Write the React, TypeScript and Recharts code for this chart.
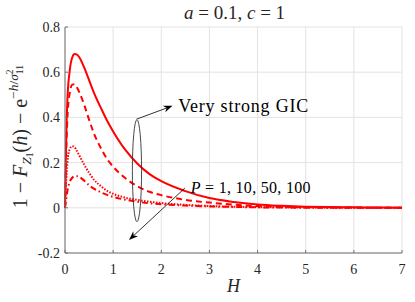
import React from 'react';
import { LineChart, Line, XAxis, YAxis, CartesianGrid, ReferenceLine, ReferenceDot } from 'recharts';

const H = [0, 0.02, 0.05, 0.1, 0.15, 0.2, 0.25, 0.3, 0.4, 0.5, 0.6, 0.75, 0.9, 1.0, 1.25, 1.5, 1.75, 2, 2.5, 3, 3.5, 4, 4.5, 5, 5.5, 6, 6.5, 7];
const p1 = [0, 0.25, 0.48, 0.61, 0.665, 0.68, 0.678, 0.665, 0.62, 0.565, 0.51, 0.44, 0.375, 0.338, 0.257, 0.196, 0.15, 0.118, 0.074, 0.043, 0.026, 0.015, 0.009, 0.005, 0.003, 0.002, 0.001, 0.0005];
const p10 = [0, 0.2, 0.4, 0.51, 0.545, 0.547, 0.532, 0.51, 0.455, 0.39, 0.33, 0.262, 0.208, 0.182, 0.132, 0.096, 0.071, 0.056, 0.035, 0.023, 0.014, 0.008, 0.005, 0.003, 0.002, 0.001, 0.0005, 0];
const p50 = [0, 0.1, 0.2, 0.26, 0.272, 0.268, 0.25, 0.23, 0.19, 0.155, 0.125, 0.095, 0.072, 0.062, 0.045, 0.035, 0.027, 0.021, 0.013, 0.008, 0.005, 0.003, 0.002, 0.001, 0.0005, 0, 0, 0];
const p100 = [0, 0.03, 0.075, 0.115, 0.133, 0.14, 0.14, 0.136, 0.12, 0.1, 0.085, 0.068, 0.055, 0.048, 0.036, 0.027, 0.02, 0.016, 0.01, 0.006, 0.004, 0.002, 0.001, 0.0005, 0, 0, 0, 0];

const xTicks = [0, 1, 2, 3, 4, 5, 6, 7];
const yTicks = [-0.2, 0, 0.2, 0.4, 0.6, 0.8];
const yTickLabels = ['-0.2', '0', '0.2', '0.4', '0.6', '0.8'];

// annotation anchors (data coords)
const ellipseCenter = { h: 1.495, v: 0.164 };
const arrowUp = { from: [1.484, 0.392], to: [2.233, 0.451] };
const arrowDown = { from: [2.489, 0.087], to: [1.33, -0.142] };
const textGIC = { h: 2.35, v: 0.426, text: 'Very strong GIC' };
const textP = { h: 2.61, v: 0.066, text: '= 1, 10, 50, 100' };

const data = H.map((h, i) => ({ h, p1: p1[i], p10: p10[i], p50: p50[i], p100: p100[i] }));

const SERIF = '"Liberation Serif", "Times New Roman", serif';
const AXIS = '#707070';
const TXT = '#262626';
const RED = '#ff0000';

const Arrow = (p: any) => {
  const { x1, y1, x2, y2 } = p;
  const ang = Math.atan2(y2 - y1, x2 - x1);
  const L = 9, W = 3.5;
  const c = Math.cos(ang), s = Math.sin(ang);
  const bx = x2 - L * c, by = y2 - L * s;
  const ix = x2 - L * 0.7 * c, iy = y2 - L * 0.7 * s;
  const pts = `${x2},${y2} ${bx - W * s},${by + W * c} ${ix},${iy} ${bx + W * s},${by - W * c}`;
  return (
    <g>
      <line x1={x1} y1={y1} x2={ix} y2={iy} stroke="#000" strokeWidth={0.8} />
      <polygon points={pts} fill="#000" />
    </g>
  );
};

const EllipseShape = (p: any) => (
  <ellipse cx={p.cx} cy={p.cy} rx={4.6} ry={51} fill="none" stroke="#333" strokeWidth={0.9} />
);

const GICText = (p: any) => (
  <text x={p.cx} y={p.cy} fontFamily={SERIF} fontSize={18} letterSpacing={0.8} fill="#000">{textGIC.text}</text>
);

const PText = (p: any) => (
  <text x={p.cx} y={p.cy} fontFamily={SERIF} fontSize={16} letterSpacing={0.3} fill="#000">
    <tspan fontStyle="italic">P</tspan>
    <tspan> {textP.text}</tspan>
  </text>
);

const XTick = (p: any) => (
  <text x={p.x} y={p.y} dy={10} textAnchor="middle" fontFamily={SERIF} fontSize={14} fill={TXT}>
    {p.payload.value}
  </text>
);

const YTick = (p: any) => {
  const v = p.payload.value;
  const idx = yTicks.findIndex((t) => Math.abs(t - v) < 1e-9);
  return (
    <text x={p.x} y={p.y} dy={5} textAnchor="end" fontFamily={SERIF} fontSize={14} fill={TXT}>
      {idx >= 0 ? yTickLabels[idx] : String(v)}
    </text>
  );
};

const YLabel = (props: any) => {
  const vb = props.viewBox || { x: 0, y: 27, width: 65, height: 226 };
  const cx = 27;
  const cy = vb.y + vb.height * 0.485;
  return (
    <text x={cx} y={cy} transform={`rotate(-90 ${cx} ${cy})`} textAnchor="middle" fontFamily={SERIF} fontSize={20} fill={TXT}>
      <tspan>1 − </tspan>
      <tspan fontStyle="italic">F</tspan>
      <tspan fontStyle="italic" fontSize={13.5} dy={4}>Z</tspan>
      <tspan fontSize={9.5} dy={2.5}>1</tspan>
      <tspan dy={-6.5}>(</tspan>
      <tspan fontStyle="italic">h</tspan>
      <tspan>) − e</tspan>
      <tspan fontSize={13.5} dy={-9}>−</tspan>
      <tspan fontSize={13.5} fontStyle="italic">h</tspan>
      <tspan fontSize={13.5}>/</tspan>
      <tspan fontSize={13.5} fontStyle="italic">σ</tspan>
      <tspan fontSize={9.5} dy={-5}>2</tspan>
      <tspan fontSize={9.5} dx={-4.8} dy={10}>11</tspan>
    </text>
  );
};

const XLabel = (props: any) => {
  const vb = props.viewBox || { x: 65, y: 253, width: 337, height: 30 };
  const cx = vb.x + vb.width / 2;
  return (
    <text x={cx} y={vb.y + 39} textAnchor="middle" fontFamily={SERIF} fontSize={18} fontStyle="italic" fill={TXT}>H</text>
  );
};

export default function App() {
  return (
    <div style={{ position: 'absolute', left: 0, top: 0, width: 415, height: 302, background: '#fff' }}>
      <LineChart width={415} height={302} data={data} margin={{ top: 27, right: 13, bottom: 19, left: 0 }}>
        <CartesianGrid stroke="#e3e3e3" strokeWidth={1} />
        <XAxis
          dataKey="h"
          type="number"
          domain={[0, 7]}
          ticks={xTicks}
          height={30}
          tickSize={-3}
          tickMargin={14}
          axisLine={{ stroke: AXIS }}
          tickLine={{ stroke: AXIS }}
          tick={<XTick />}
          label={<XLabel />}
        />
        <XAxis
          xAxisId="top"
          orientation="top"
          dataKey="h"
          type="number"
          domain={[0, 7]}
          ticks={xTicks}
          height={0}
          tickSize={-3}
          tickFormatter={() => ''}
          axisLine={{ stroke: AXIS }}
          tickLine={{ stroke: AXIS }}
        />
        <YAxis
          type="number"
          domain={[-0.2, 0.8]}
          ticks={yTicks}
          width={65}
          tickSize={-3}
          tickMargin={8}
          axisLine={{ stroke: AXIS }}
          tickLine={{ stroke: AXIS }}
          tick={<YTick />}
          label={<YLabel />}
        />
        <YAxis
          yAxisId="right"
          orientation="right"
          type="number"
          domain={[-0.2, 0.8]}
          ticks={yTicks}
          width={0}
          tickSize={-3}
          tickFormatter={() => ''}
          axisLine={{ stroke: AXIS }}
          tickLine={{ stroke: AXIS }}
        />
        <Line type="monotone" dataKey="p100" stroke={RED} strokeWidth={2} strokeDasharray="6 3 1.5 3" dot={false} isAnimationActive={false} />
        <Line type="monotone" dataKey="p50" stroke={RED} strokeWidth={2} strokeDasharray="1.5 1.5" dot={false} isAnimationActive={false} />
        <Line type="monotone" dataKey="p10" stroke={RED} strokeWidth={2} strokeDasharray="6 4" dot={false} isAnimationActive={false} />
        <Line type="monotone" dataKey="p1" stroke={RED} strokeWidth={2} dot={false} isAnimationActive={false} />
        <ReferenceDot x={ellipseCenter.h} y={ellipseCenter.v} r={0} shape={<EllipseShape />} />
        <ReferenceLine segment={[{ x: arrowUp.from[0], y: arrowUp.from[1] }, { x: arrowUp.to[0], y: arrowUp.to[1] }]} shape={<Arrow />} />
        <ReferenceLine segment={[{ x: arrowDown.from[0], y: arrowDown.from[1] }, { x: arrowDown.to[0], y: arrowDown.to[1] }]} shape={<Arrow />} />
        <ReferenceDot x={textGIC.h} y={textGIC.v} r={0} shape={<GICText />} />
        <ReferenceDot x={textP.h} y={textP.v} r={0} shape={<PText />} />
      </LineChart>
      <svg width={415} height={27} style={{ position: 'absolute', left: 0, top: 0, pointerEvents: 'none' }}>
        <text x={184} y={19} textAnchor="start" fontFamily={SERIF} fontSize={19} fill={TXT}>
          <tspan fontStyle="italic">a</tspan>
          <tspan> = 0.1, </tspan>
          <tspan fontStyle="italic">c</tspan>
          <tspan> = 1</tspan>
        </text>
      </svg>
    </div>
  );
}
